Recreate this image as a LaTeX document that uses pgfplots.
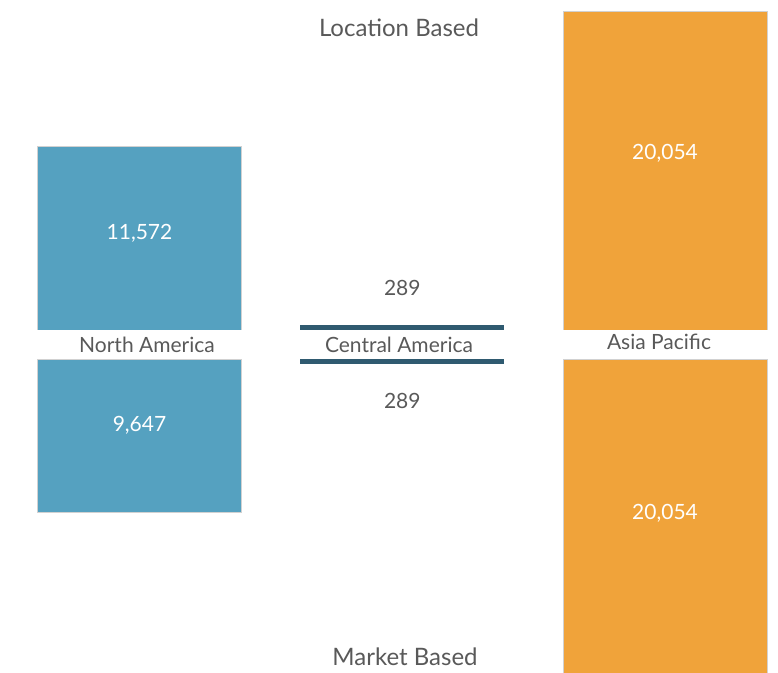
\documentclass[border=0pt]{standalone}
\usepackage{pgfplots}
\pgfplotsset{compat=1.18}
\usepackage{fontspec}
\setmainfont{Lato}
\definecolor{naBlue}{HTML}{55A1C0}
\definecolor{apOrange}{HTML}{F0A33A}
\definecolor{caTeal}{HTML}{2F5A70}
\definecolor{txt}{HTML}{595959}
\begin{document}
\begin{tikzpicture}
\useasboundingbox (0pt,0pt) rectangle (778pt,672pt);
\pgfplotsset{common/.style={scale only axis, width=778pt, xmin=-0.531, xmax=2.430,
  ymin=0, axis lines=none, ybar, bar width=204pt, bar shift=0pt, ticks=none, clip=true}}
\begin{axis}[common, at={(0pt,342pt)}, anchor=south west, height=330pt, ymax=20747]
\addplot[fill=naBlue, draw=black!18, line width=0.5pt] coordinates {(0,11572)};
\addplot[fill=caTeal, draw=none] coordinates {(1,289)};
\addplot[fill=apOrange, draw=black!18, line width=0.5pt] coordinates {(2,20054)};
\node[text=white, font=\fontsize{21}{23}\selectfont] at (axis cs:0,6098) {11,572};
\node[text=txt, font=\fontsize{21}{23}\selectfont] at (axis cs:1,2640) {289};
\node[text=white, font=\fontsize{21}{23}\selectfont] at (axis cs:2,11128) {20,054};
\end{axis}
\begin{axis}[common, at={(0pt,0pt)}, anchor=south west, height=313pt, ymax=19680, y dir=reverse]
\addplot[fill=naBlue, draw=black!18, line width=0.5pt] coordinates {(0,9647)};
\addplot[fill=caTeal, draw=none] coordinates {(1,289)};
\addplot[fill=apOrange, draw=black!18, line width=0.5pt] coordinates {(2,20054)};
\node[text=white, font=\fontsize{21}{23}\selectfont] at (axis cs:0,4149) {9,647};
\node[text=txt, font=\fontsize{21}{23}\selectfont] at (axis cs:1,2640) {289};
\node[text=white, font=\fontsize{21}{23}\selectfont] at (axis cs:2,9682) {20,054};
\end{axis}
\node[text=txt, font=\fontsize{21}{23}\selectfont] at (147pt,327pt) {North America};
\node[text=txt, font=\fontsize{21}{23}\selectfont] at (399pt,327pt) {Central America};
\node[text=txt, font=\fontsize{21}{23}\selectfont] at (659pt,330pt) {Asia Pacific};
\node[text=txt, font=\fontsize{24}{26}\selectfont] at (399pt,644pt) {Location Based};
\node[text=txt, font=\fontsize{24}{26}\selectfont, inner sep=1pt] at (405pt,15pt) {Market Based};
\end{tikzpicture}
\end{document}
